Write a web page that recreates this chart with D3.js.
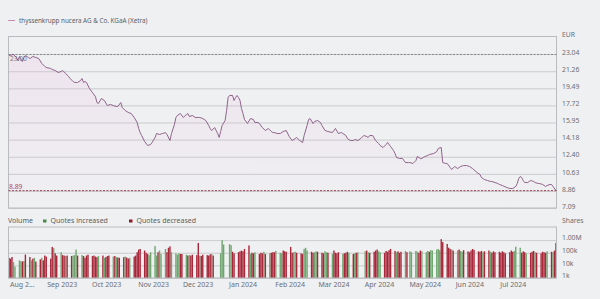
<!DOCTYPE html>
<html><head><meta charset="utf-8">
<script src="https://cdn.jsdelivr.net/npm/d3@7"></script>
<style>
html,body{margin:0;padding:0;background:#eff0f2;}
svg{display:block;font-family:"Noto Sans",sans-serif;}
</style></head><body>
<svg id="c" width="600" height="299"></svg>
<script>
// ---------- DATA ----------
const seriesName = "thyssenkrupp nucera AG & Co. KGaA (Xetra)";
const priceDates = [
"2023-08-07","2023-08-10","2023-08-12","2023-08-13","2023-08-14","2023-08-16","2023-08-17","2023-08-18","2023-08-20","2023-08-21",
"2023-08-23","2023-08-25","2023-08-27","2023-08-29","2023-08-31","2023-09-01","2023-09-04","2023-09-05","2023-09-07","2023-09-09",
"2023-09-11","2023-09-12","2023-09-14","2023-09-16","2023-09-17","2023-09-19","2023-09-20","2023-09-22","2023-09-24","2023-09-25",
"2023-09-26","2023-09-27","2023-09-28","2023-09-30","2023-10-02","2023-10-04","2023-10-05","2023-10-06","2023-10-08","2023-10-10",
"2023-10-12","2023-10-14","2023-10-16","2023-10-18","2023-10-19","2023-10-21","2023-10-22","2023-10-24","2023-10-26","2023-10-28",
"2023-10-30","2023-11-01","2023-11-02","2023-11-03","2023-11-04","2023-11-06","2023-11-08","2023-11-10","2023-11-11","2023-11-13",
"2023-11-14","2023-11-16","2023-11-18","2023-11-20","2023-11-21","2023-11-23","2023-11-24","2023-11-26","2023-11-27","2023-11-28",
"2023-11-30","2023-12-02","2023-12-04","2023-12-05","2023-12-06","2023-12-08","2023-12-10","2023-12-12","2023-12-13","2023-12-15",
"2023-12-17","2023-12-19","2023-12-20","2023-12-21","2023-12-23","2023-12-25","2023-12-26","2023-12-27","2023-12-28","2023-12-30",
"2023-12-31","2024-01-01","2024-01-02","2024-01-04","2024-01-05","2024-01-06","2024-01-07","2024-01-08","2024-01-09","2024-01-10",
"2024-01-11","2024-01-12","2024-01-14","2024-01-16","2024-01-18","2024-01-19","2024-01-21","2024-01-22","2024-01-24","2024-01-26",
"2024-01-28","2024-01-30","2024-01-31","2024-02-01","2024-02-03","2024-02-05","2024-02-07","2024-02-09","2024-02-11","2024-02-13",
"2024-02-15","2024-02-16","2024-02-18","2024-02-20","2024-02-21","2024-02-23","2024-02-24","2024-02-25","2024-02-27","2024-02-28",
"2024-03-01","2024-03-03","2024-03-04","2024-03-06","2024-03-08","2024-03-11","2024-03-13","2024-03-15","2024-03-17","2024-03-18",
"2024-03-20","2024-03-21","2024-03-23","2024-03-25","2024-03-26","2024-03-28","2024-03-30","2024-04-01","2024-04-03","2024-04-04",
"2024-04-05","2024-04-07","2024-04-09","2024-04-11","2024-04-12","2024-04-14","2024-04-16","2024-04-17","2024-04-19","2024-04-21",
"2024-04-22","2024-04-23","2024-04-25","2024-04-27","2024-04-29","2024-05-01","2024-05-02","2024-05-04","2024-05-06","2024-05-07",
"2024-05-09","2024-05-10","2024-05-12","2024-05-14","2024-05-15","2024-05-18","2024-05-20","2024-05-21","2024-05-23","2024-05-24",
"2024-05-26","2024-05-27","2024-05-29","2024-05-30","2024-06-01","2024-06-03","2024-06-05","2024-06-07","2024-06-09","2024-06-11",
"2024-06-13","2024-06-16","2024-06-18","2024-06-19","2024-06-21","2024-06-23","2024-06-25","2024-06-26","2024-06-28","2024-06-30",
"2024-07-01","2024-07-03","2024-07-06","2024-07-08","2024-07-10","2024-07-12","2024-07-13","2024-07-14","2024-07-15","2024-07-16",
"2024-07-17","2024-07-18","2024-07-20","2024-07-22","2024-07-24","2024-07-25","2024-07-27","2024-07-28","2024-07-30","2024-08-01",
"2024-08-02","2024-08-04","2024-08-05","2024-08-06","2024-08-08"];
const priceValues = [
22.89,23.00,22.69,22.38,22.79,22.27,22.69,22.89,22.69,22.58,
22.79,22.69,22.58,22.07,21.76,21.65,21.55,21.44,21.34,21.13,
21.24,21.34,21.03,20.72,20.51,20.20,20.10,20.10,20.30,20.51,
20.10,20.20,20.10,19.47,19.06,18.64,18.02,17.92,18.44,18.23,
17.71,17.82,17.71,17.61,17.61,18.02,17.50,17.19,16.99,16.88,
16.47,15.95,15.33,14.91,14.60,13.98,13.57,13.67,13.88,14.40,
14.81,14.71,14.81,14.91,14.71,14.08,14.81,15.74,16.47,16.68,
16.88,16.47,16.78,16.88,16.57,16.68,16.47,16.47,16.47,16.36,
16.16,15.64,15.33,15.12,15.43,14.81,14.40,15.02,15.64,16.16,
17.19,18.54,18.75,18.75,18.23,18.54,18.75,18.54,18.23,17.40,
16.88,16.26,15.85,16.36,16.26,15.95,15.95,15.85,15.43,15.12,
15.33,15.02,14.91,14.91,14.81,14.81,15.02,15.12,14.50,14.08,
14.29,14.40,14.08,13.88,14.60,15.64,16.26,16.36,15.85,16.05,
16.16,15.95,15.64,15.12,15.02,14.91,15.33,14.81,14.91,14.81,
14.60,14.29,14.08,14.08,14.19,14.08,14.29,14.60,14.50,14.40,
14.60,14.60,14.08,13.77,13.57,13.36,13.67,13.88,13.46,13.05,
12.74,12.32,12.22,12.22,11.80,11.80,11.80,11.70,12.01,12.43,
12.22,12.22,12.43,12.53,12.63,12.74,12.94,13.26,13.36,11.80,
11.70,11.70,11.29,11.08,11.39,11.18,11.39,11.49,11.49,11.39,
11.18,10.77,10.56,10.25,10.04,9.94,9.84,9.84,9.73,9.63,
9.53,9.42,9.21,9.11,9.11,9.32,9.63,10.15,10.35,10.25,
9.94,9.73,9.73,9.94,9.84,9.73,9.63,9.63,9.53,9.32,
9.42,9.53,9.53,9.32,8.89];
const startPrice = 23.00;
const lastPrice = 8.89;
const priceTicks = [7.09, 8.86, 10.63, 12.40, 14.18, 15.95, 17.72, 19.49, 21.26, 23.04];
const priceTop = 24.81;

// volume per trading weekday (thousands of shares), from 2023-08-07; null = no trading
const volumeStart = "2023-08-07";
const volumeK = [
 39,34,46,18,8,25,21,21,22,72,46,25,34,39,20,30,40,25,60,                       // Aug
 50,34,290,230,90,60,110,65,60,55,60,55,60,65,180,60,65,55,40,60,70,            // Sep
 55,60,50,45,55,60,40,45,55,60,50,55,45,42,40,45,50,42,35,40,50,60,             // Oct
 110,180,200,150,100,80,65,110,340,60,110,150,80,200,110,250,320,110,90,70,90,80, // Nov
 80,70,60,65,60,70,65,600,60,55,70,65,60,75,80,60,null,null,90,1000,450,        // Dec
 null,480,400,120,90,110,130,150,130,200,380,80,100,90,110,80,100,90,120,80,90,100,110, // Jan
 110,140,100,90,150,130,120,290,100,110,120,100,90,80,200,250,150,120,100,110,130, // Feb
 120,100,90,130,110,100,80,150,100,90,110,80,90,100,120,100,80,90,100,110,null, // Mar
 null,130,150,110,100,120,150,180,130,110,100,140,120,160,200,140,110,130,100,120,140,110, // Apr
 null,130,110,140,120,100,150,130,110,140,120,160,150,180,200,160,1200,700,500,250,200,180,150, // May
 150,180,140,120,160,130,110,150,200,170,130,120,140,110,130,150,120,100,130,110, // Jun
 120,100,130,110,90,110,150,120,140,300,250,100,130,110,90,100,120,140,110,100,90,120,110, // Jul
 100,130,120,110,150,600                                                          // Aug
];
const volumeDir = (
 "d d d u u u u d u d d u d u d d u d d " +
 "d d d u d d u d d u d d u u u d u d d d d " +
 "d d d d u d u d d d u d u d d d u d d u d d " +
 "d d d d d d u u u u d u u u d d d u u u u d " +
 "d u d u d d d d u d d d d d u d - - u u u " +
 "- u u d d d d d d d d u d d u d d d u d u d d " +
 "d u u u d d d d d u u d d d u u u d d u u " +
 "d d d u u d u d d d d u d d d u d u d u - " +
 "- u d u d d d d u u d d d d d d u d d d u d " +
 "- u u u u d d u u u d u u u u u d d d d d u d " +
 "u d u u d d d d d d d d d u d d u d d d " +
 "d d d d d d d d u u u d d d u d d d u d d d d " +
 "d u d u d d").trim().split(" ");
const volumeTicks = [1e3, 1e4, 1e5, 1e6];
const volumeTickLabels = ["1k", "10k", "100k", "1.00M"];
const monthTickDates = ["2023-08-07","2023-09-01","2023-10-01","2023-11-01","2023-12-01","2024-01-01",
  "2024-02-01","2024-03-01","2024-04-01","2024-05-01","2024-06-01","2024-07-01"];
const monthTickLabels = ["Aug 2...","Sep 2023","Oct 2023","Nov 2023","Dec 2023","Jan 2024",
  "Feb 2024","Mar 2024","Apr 2024","May 2024","Jun 2024","Jul 2024"];

// ---------- CHART ----------
const parse = d3.timeParse("%Y-%m-%d");
const svg = d3.select("#c");
const L = 8.5, R = 556.5;
const x = d3.scaleTime().domain([parse("2023-08-07"), parse("2024-08-08")]).range([9, 556]);
const yP = d3.scaleLinear().domain([priceTicks[0], priceTop]).range([208, 37]);
const yV = d3.scaleLog().domain([1e3, 1.1e7]).range([278, 227]);

const txt = "#6b6e72", grid = "#c9cbce", border = "#b9bbbe";
const priceColor = "#85557f";

// legend
svg.append("line").attr("x1", 8).attr("x2", 15).attr("y1", 20.5).attr("y2", 20.5)
  .attr("stroke", "#c48ab4").attr("stroke-width", 1);
svg.append("text").attr("x", 19).attr("y", 20.5).attr("dy", "0.35em")
  .attr("font-size", 6.3).attr("fill", "#5a5d61").text(seriesName);

// price gridlines + right axis
const gP = svg.append("g").attr("transform", `translate(${R},0)`)
  .call(d3.axisRight(yP).tickValues(priceTicks).tickSize(-(R - L)).tickPadding(5.5)
    .tickFormat(d => d.toFixed(2)));
gP.select(".domain").remove();
gP.selectAll(".tick line").attr("stroke", grid).attr("stroke-width", 1);
gP.selectAll(".tick text").attr("fill", txt).attr("font-size", 6.8)
  .attr("font-family", "Noto Sans").attr("dy", "0.32em").attr("y", -2);
svg.append("text").attr("x", R + 5.5).attr("y", 35).attr("dy", "0.32em")
  .attr("font-size", 6.8).attr("fill", txt).text("EUR");

// price frame
svg.append("rect").attr("x", L).attr("y", yP(priceTop) - 0.5).attr("width", R - L)
  .attr("height", yP(priceTicks[0]) - yP(priceTop) + 0.5)
  .attr("fill", "none").attr("stroke", border).attr("stroke-width", 1);

// area + line
const pts = priceDates.map((d, i) => ({ d: parse(d), v: priceValues[i] }));
const defs = svg.append("defs");
const gr = defs.append("linearGradient").attr("id", "pg").attr("x1", 0).attr("x2", 0).attr("y1", 0).attr("y2", 1);
gr.append("stop").attr("offset", "0%").attr("stop-color", "#eab8dc").attr("stop-opacity", 0.22);
gr.append("stop").attr("offset", "100%").attr("stop-color", "#eab8dc").attr("stop-opacity", 0.0);
svg.append("path").datum(pts)
  .attr("d", d3.area().x(p => x(p.d)).y0(yP(priceTicks[0])).y1(p => yP(p.v)))
  .attr("fill", "url(#pg)");

// reference lines
svg.append("line").attr("x1", L).attr("x2", R).attr("y1", yP(startPrice)).attr("y2", yP(startPrice))
  .attr("stroke", "#7d8084").attr("stroke-dasharray", "2,1.5").attr("stroke-width", 0.9);
svg.append("line").attr("x1", L).attr("x2", R).attr("y1", yP(lastPrice)).attr("y2", yP(lastPrice))
  .attr("stroke", "#9a2a3c").attr("stroke-dasharray", "2,1.5").attr("stroke-width", 0.9);
svg.append("text").attr("x", 10).attr("y", yP(startPrice) + 4).attr("dy", "0.32em")
  .attr("font-size", 6.5).attr("fill", "#75787c").text(startPrice.toFixed(2));
svg.append("text").attr("x", 9).attr("y", yP(lastPrice) - 3.5).attr("dy", "0.32em")
  .attr("font-size", 6.8).attr("fill", "#b0475a").text(lastPrice.toFixed(2));

svg.append("path").datum(pts)
  .attr("d", d3.line().x(p => x(p.d)).y(p => yP(p.v)))
  .attr("fill", "none").attr("stroke", priceColor).attr("stroke-width", 0.9)
  .attr("stroke-linejoin", "round");

// volume legend
svg.append("text").attr("x", 8).attr("y", 221).attr("dy", "0.32em")
  .attr("font-size", 7).attr("fill", "#5a5d61").text("Volume");
svg.append("rect").attr("x", 43).attr("y", 219.5).attr("width", 3.5).attr("height", 3).attr("fill", "#4c8a4c");
svg.append("text").attr("x", 50.5).attr("y", 221).attr("dy", "0.32em")
  .attr("font-size", 7).attr("fill", "#5a5d61").text("Quotes increased");
svg.append("rect").attr("x", 129).attr("y", 219.5).attr("width", 3.5).attr("height", 3).attr("fill", "#8e1b28");
svg.append("text").attr("x", 136.5).attr("y", 221).attr("dy", "0.32em")
  .attr("font-size", 7).attr("fill", "#5a5d61").text("Quotes decreased");
svg.append("text").attr("x", R + 5.5).attr("y", 221).attr("dy", "0.32em")
  .attr("font-size", 6.8).attr("fill", txt).text("Shares");

// volume gridlines + axis
const gV = svg.append("g").attr("transform", `translate(${R},0)`)
  .call(d3.axisRight(yV).tickValues(volumeTicks).tickSize(-(R - L)).tickPadding(5.5)
    .tickFormat((d, i) => volumeTickLabels[i]));
gV.select(".domain").remove();
gV.selectAll(".tick line").attr("stroke", grid).attr("stroke-width", 1);
gV.selectAll(".tick text").attr("fill", txt).attr("font-size", 6.8)
  .attr("font-family", "Noto Sans").attr("dy", "0.32em").attr("y", -2.5);

// volume bars
const vStart = parse(volumeStart);
const weekdays = [];
for (let d = new Date(vStart); weekdays.length < volumeK.length; d.setDate(d.getDate() + 1)) {
  const w = d.getDay();
  if (w !== 0 && w !== 6) weekdays.push(new Date(d));
}
const bars = weekdays.map((d, i) => ({ d, v: volumeK[i], dir: volumeDir[i] }))
  .filter(b => b.v != null);
svg.append("g").selectAll("rect").data(bars).join("rect")
  .attr("x", b => x(b.d) - 0.7).attr("width", 1.4)
  .attr("y", b => yV(b.v * 1000)).attr("height", b => yV(1e3) - yV(b.v * 1000))
  .attr("fill", b => b.dir === "u" ? "#6fa66f" : "#a8283a");

// volume frame
svg.append("rect").attr("x", L).attr("y", yV(1.1e7)).attr("width", R - L)
  .attr("height", yV(1e3) - yV(1.1e7))
  .attr("fill", "none").attr("stroke", border).attr("stroke-width", 1);

// time axis
const gX = svg.append("g").attr("transform", "translate(0,282)")
  .call(d3.axisBottom(x).tickValues(monthTickDates.map(parse)).tickSize(0).tickPadding(0)
    .tickFormat((d, i) => monthTickLabels[i]));
gX.select(".domain").remove();
gX.selectAll(".tick text").attr("fill", txt).attr("font-size", 7)
  .attr("font-family", "Noto Sans").attr("text-anchor", "start").attr("dy", "0.71em").attr("x", 0.5);
</script>
</body></html>
